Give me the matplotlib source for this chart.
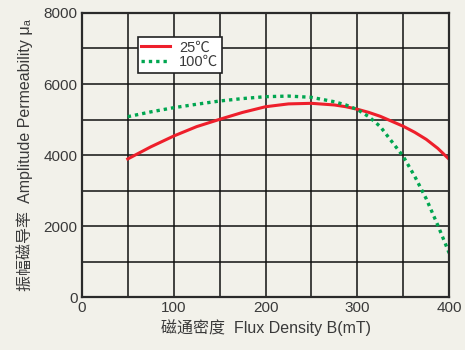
import matplotlib
matplotlib.use("Agg")
import matplotlib.pyplot as plt

plt.rcParams['font.family'] = ['Liberation Sans', 'Noto Sans CJK SC', 'DejaVu Sans']

# readings (mT, permeability)
b_mt = [50, 75, 100, 125, 150, 175, 200, 225, 250, 275, 287.5, 300, 312.5, 325, 350, 362.5, 375, 387.5, 400]
mu_25 = [3890, 4230, 4535, 4800, 5005, 5200, 5360, 5440, 5456, 5410, 5360, 5290, 5200, 5090, 4810, 4640, 4442, 4190, 3880]
mu_100 = [5080, 5215, 5333, 5430, 5521, 5590, 5643, 5660, 5625, 5500, 5410, 5280, 5080, 4800, 3960, 3400, 2770, 2030, 1240]

bg = '#f2f1ea'
fig = plt.figure(figsize=(4.65, 3.5), dpi=100, facecolor=bg)
ax = fig.add_axes([0.176, 0.151, 0.79, 0.812], facecolor=bg)

ax.plot(b_mt, mu_25, color='#ee1f2b', lw=2.2, label='25℃')
ax.plot(b_mt, mu_100, color='#00a650', lw=2.4, ls=(0, (1, 1.2)), label='100℃')

ax.set_xlim(0, 400)
ax.set_ylim(0, 8000)
ax.set_xticks([0, 100, 200, 300, 400])
ax.set_xticks(range(0, 401, 50), minor=True)
ax.set_yticks([0, 2000, 4000, 6000, 8000])
ax.set_yticks(range(0, 8001, 1000), minor=True)
ax.grid(True, which='both', color='#111111', lw=1.1)
ax.set_axisbelow(True)
for s in ax.spines.values():
    s.set_linewidth(1.6)
    s.set_color('#2a2a2a')
ax.tick_params(which='both', length=0, labelsize=11, labelcolor='#3a3a3a')
ax.tick_params(axis='x', pad=3)
ax.tick_params(axis='y', pad=3)

ax.set_xlabel('磁通密度  Flux Density B(mT)', fontsize=11.5, color='#3a3a3a', labelpad=3)
ax.set_ylabel('振幅磁导率  Amplitude Permeability μₐ', fontsize=11.5,
              color='#3a3a3a', labelpad=8)

leg = ax.legend(loc='upper left', bbox_to_anchor=(0.152, 0.916), fontsize=10.5,
                frameon=True, fancybox=False, edgecolor='#222222', facecolor='white',
                framealpha=1, handlelength=2.0, borderpad=0.25, labelspacing=0.05,
                handletextpad=0.6, borderaxespad=0)
leg.get_frame().set_linewidth(1.2)
for t in leg.get_texts():
    t.set_color('#3a3a3a')

fig.savefig('out.png', dpi=100, facecolor=bg)
